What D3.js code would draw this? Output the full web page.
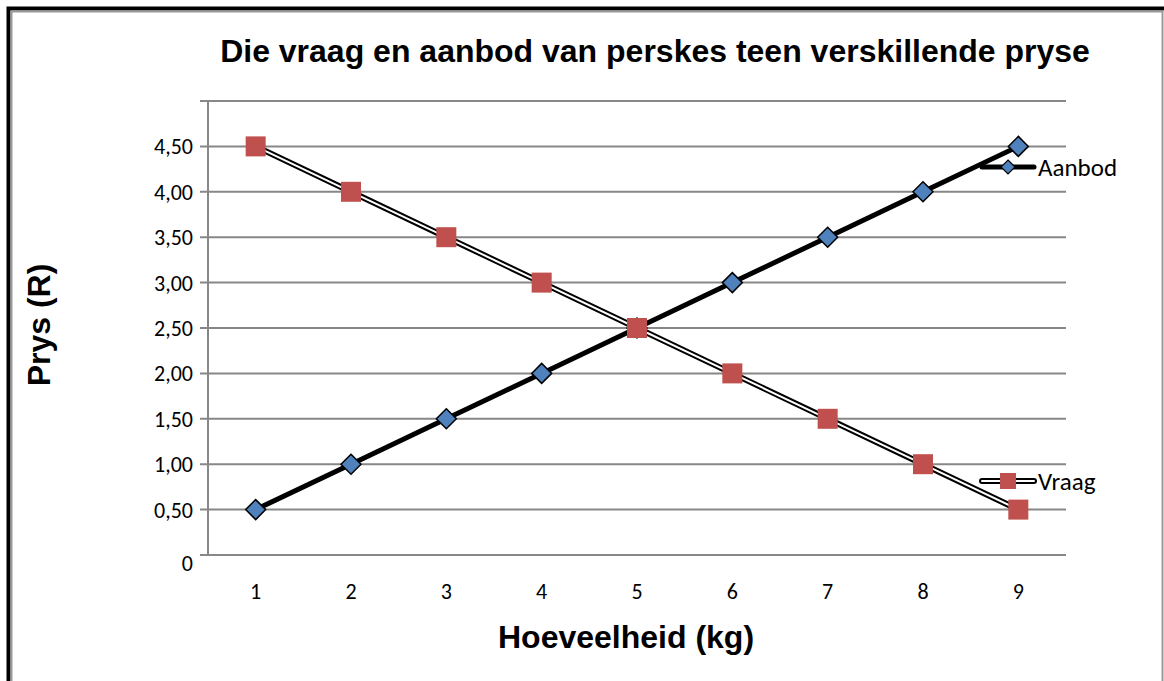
<!DOCTYPE html>
<html>
<head>
<meta charset="utf-8">
<script src="https://cdn.jsdelivr.net/npm/d3@7"></script>
<style>
  body { margin: 0; background: #fff; }
  svg { display: block; }
</style>
</head>
<body>
<div id="chart"></div>
<script>
let hoeveelheid = [1, 2, 3, 4, 5, 6, 7, 8, 9]
let aanbod = [0.5, 1, 1.5, 2, 2.5, 3, 3.5, 4, 4.5]
let vraag = [4.5, 4, 3.5, 3, 2.5, 2, 1.5, 1, 0.5]
let yTicks = [0, 0.5, 1, 1.5, 2, 2.5, 3, 3.5, 4, 4.5, 5]

let width = 1164
let height = 681
let plot = { left: 208, right: 1066, top: 101, bottom: 555 }

let svg = d3
  .select('#chart')
  .append('svg')
  .attr('width', width)
  .attr('height', height)

// frame
svg.append('rect').attr('x', 0).attr('y', 0).attr('width', width).attr('height', height).attr('fill', '#fff')
svg.append('path').attr('d', 'M8.5,682 V8.5 H1164').attr('fill', 'none').attr('stroke', '#000').attr('stroke-width', 4)
svg.append('path').attr('d', 'M11.5,682 V11.5 H1162.5 V682').attr('fill', 'none').attr('stroke', '#999').attr('stroke-width', 2)

let xPositionScale = d3.scalePoint().domain(hoeveelheid).range([plot.left, plot.right]).padding(0.5)
let yPositionScale = d3.scaleLinear().domain([0, 5]).range([plot.bottom, plot.top])

let fmt = d => (d === 0 ? '0' : d3.format('.2f')(d).replace('.', ','))

// gridlines
svg
  .append('g')
  .selectAll('line')
  .data(yTicks)
  .enter()
  .append('line')
  .attr('x1', plot.left - 8)
  .attr('x2', plot.right)
  .attr('y1', d => yPositionScale(d))
  .attr('y2', d => yPositionScale(d))
  .attr('stroke', '#878787')
  .attr('stroke-width', 2)

// y axis line
svg
  .append('line')
  .attr('x1', plot.left)
  .attr('x2', plot.left)
  .attr('y1', plot.top)
  .attr('y2', plot.bottom)
  .attr('stroke', '#878787')
  .attr('stroke-width', 2)

// y labels
svg
  .append('g')
  .selectAll('text')
  .data(yTicks.filter(d => d < 5))
  .enter()
  .append('text')
  .attr('x', 193)
  .attr('y', d => yPositionScale(d) + (d === 0 ? 8 : 0))
  .attr('dy', '0.36em')
  .attr('text-anchor', 'end')
  .attr('font-family', 'Carlito, Lato, sans-serif')
  .attr('font-size', 22)
  .attr('fill', '#000')
  .text(fmt)

// x labels
svg
  .append('g')
  .selectAll('text')
  .data(hoeveelheid)
  .enter()
  .append('text')
  .attr('x', d => xPositionScale(d))
  .attr('y', 591)
  .attr('dy', '0.36em')
  .attr('text-anchor', 'middle')
  .attr('font-family', 'Carlito, Lato, sans-serif')
  .attr('font-size', 22)
  .attr('fill', '#000')
  .text(d => d)

let line = d3
  .line()
  .x((d, i) => xPositionScale(hoeveelheid[i]))
  .y(d => yPositionScale(d))

// Aanbod
svg.append('path').datum(aanbod).attr('d', line).attr('fill', 'none').attr('stroke', '#000').attr('stroke-width', 5)

let diamond = 'M0,-10 L10,0 L0,10 L-10,0 Z'
svg
  .append('g')
  .selectAll('path')
  .data(aanbod)
  .enter()
  .append('path')
  .attr('d', diamond)
  .attr('transform', (d, i) => 'translate(' + xPositionScale(hoeveelheid[i]) + ',' + yPositionScale(d) + ')')
  .attr('fill', '#4f81bd')
  .attr('stroke', '#000')
  .attr('stroke-width', 1.5)

// Vraag (double line)
svg.append('path').datum(vraag).attr('d', line).attr('fill', 'none').attr('stroke', '#000').attr('stroke-width', 6)
svg.append('path').datum(vraag).attr('d', line).attr('fill', 'none').attr('stroke', '#fff').attr('stroke-width', 2)

svg
  .append('g')
  .selectAll('rect')
  .data(vraag)
  .enter()
  .append('rect')
  .attr('x', (d, i) => xPositionScale(hoeveelheid[i]) - 10)
  .attr('y', d => yPositionScale(d) - 10)
  .attr('width', 20)
  .attr('height', 20)
  .attr('fill', '#c0504d')

// legend
let legendY = { Aanbod: 167, Vraag: 481 }

svg.append('line').attr('x1', 982).attr('x2', 1034).attr('y1', legendY.Aanbod).attr('y2', legendY.Aanbod)
  .attr('stroke', '#000').attr('stroke-width', 5).attr('stroke-linecap', 'round')
svg.append('path').attr('d', 'M0,-7 L7,0 L0,7 L-7,0 Z').attr('transform', 'translate(1008,' + legendY.Aanbod + ')')
  .attr('fill', '#4f81bd').attr('stroke', '#000').attr('stroke-width', 1.2)

svg.append('line').attr('x1', 982).attr('x2', 1034).attr('y1', legendY.Vraag).attr('y2', legendY.Vraag)
  .attr('stroke', '#000').attr('stroke-width', 6).attr('stroke-linecap', 'round')
svg.append('line').attr('x1', 982).attr('x2', 1034).attr('y1', legendY.Vraag).attr('y2', legendY.Vraag)
  .attr('stroke', '#fff').attr('stroke-width', 2).attr('stroke-linecap', 'round')
svg.append('rect').attr('x', 1000).attr('y', legendY.Vraag - 8).attr('width', 16).attr('height', 16).attr('fill', '#c0504d')

svg.selectAll('.legend-text')
  .data(['Aanbod', 'Vraag'])
  .enter()
  .append('text')
  .attr('class', 'legend-text')
  .attr('x', 1038)
  .attr('y', d => legendY[d])
  .attr('dy', '0.36em')
  .attr('font-family', 'Carlito, Lato, sans-serif')
  .attr('font-size', 25)
  .attr('fill', '#000')
  .text(d => d)

// titles
svg.append('text')
  .attr('x', 655)
  .attr('y', 50)
  .attr('dy', '0.36em')
  .attr('text-anchor', 'middle')
  .attr('font-family', 'Liberation Sans, Arial, sans-serif')
  .attr('font-weight', 'bold')
  .attr('font-size', 32)
  .text('Die vraag en aanbod van perskes teen verskillende pryse')

svg.append('text')
  .attr('x', 626)
  .attr('y', 636)
  .attr('dy', '0.36em')
  .attr('text-anchor', 'middle')
  .attr('font-family', 'Liberation Sans, Arial, sans-serif')
  .attr('font-weight', 'bold')
  .attr('font-size', 32)
  .text('Hoeveelheid (kg)')

svg.append('text')
  .attr('transform', 'translate(38,325) rotate(-90)')
  .attr('dy', '0.36em')
  .attr('text-anchor', 'middle')
  .attr('font-family', 'Liberation Sans, Arial, sans-serif')
  .attr('font-weight', 'bold')
  .attr('font-size', 32)
  .text('Prys (R)')
</script>
</body>
</html>
